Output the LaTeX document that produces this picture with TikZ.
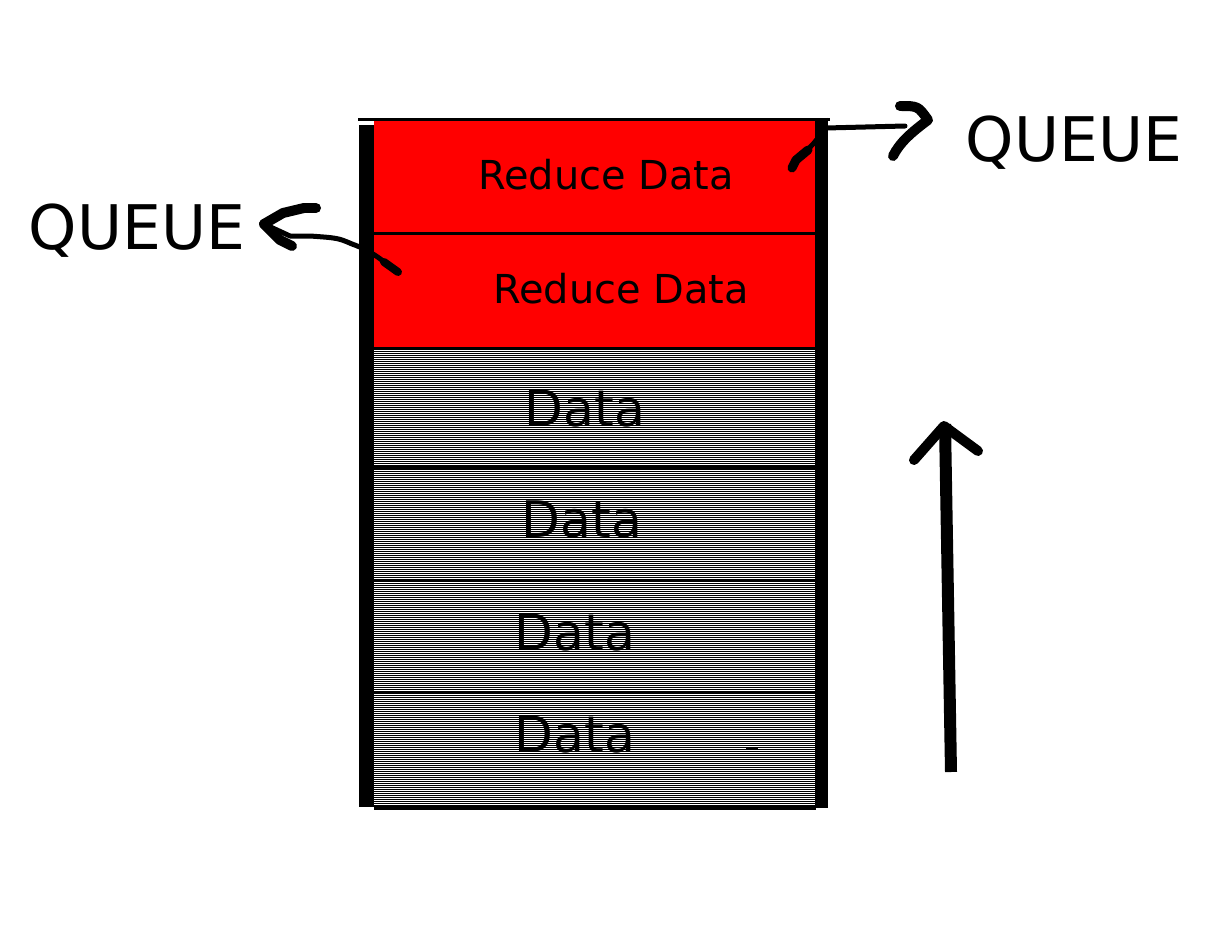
\documentclass[tikz,border=0pt]{standalone}
\usepackage{fontspec}
\setmainfont{DejaVu Sans}
\usetikzlibrary{positioning}

\begin{document}
\begin{tikzpicture}[x=0.02cm,y=-0.02cm,
redcell/.style={rectangle, fill=red, minimum width=8.82cm, inner sep=0pt, anchor=north west},
datacell/.style={rectangle, minimum width=8.82cm, inner sep=0pt, anchor=north west},
stripe/.style={line width=0.02cm},
divider/.style={line width=0.06cm},
bar/.style={line width=0.3cm},
smalltext/.style={anchor=base, font=\fontsize{22.7}{27}\selectfont},
bigtext/.style={anchor=base, font=\fontsize{28.7}{34}\selectfont},
queuetext/.style={anchor=base, font=\fontsize{35}{42}\selectfont},
arrowline/.style={line width=0.1cm, line cap=round, line join=round},
barb/.style={line width=0.2cm, line cap=round, line join=round},
]
\useasboundingbox (0,0) rectangle (1221,936);

%Cells
\node[redcell, minimum height=2.24cm]                    (reduce1) at (374,121) {};
\node[redcell, minimum height=2.28cm, below=0pt of reduce1] (reduce2) {};
\node[datacell, minimum height=2.36cm, below=0pt of reduce2] (data1) {};
\node[datacell, minimum height=2.26cm, below=0pt of data1]   (data2) {};
\node[datacell, minimum height=2.22cm, below=0pt of data2]   (data3) {};
\node[datacell, minimum height=2.30cm, below=0pt of data3]   (data4) {};

%Stripes
\foreach \y in {349.5,351.5,...,805.5}
  \draw[stripe] (374,\y) -- (815,\y);

%Dividers
\draw[divider] (reduce1.south west) -- (reduce1.south east);
\draw[divider] (reduce2.south west) -- (reduce2.south east);
\draw[divider] ([xshift=-0.3cm]data1.south west) -- (data1.south east);
\draw[divider] ([xshift=-0.3cm]data2.south west) -- (data2.south east);
\draw[divider] ([xshift=-0.3cm]data3.south west) -- (data3.south east);
\draw[line width=0.08cm] (data4.south west) -- (data4.south east);

%Frame
\draw[divider] (358,120) -- (830,120);
\draw[bar] (366,125) -- (366,807);
\draw[line width=0.26cm] (821.5,118) -- (821.5,808);
\draw[line width=0.03cm] (746,748) -- (758,748);

%Texts
\node[smalltext] (reducetext1) at (606,190) {Reduce Data};
\node[smalltext] (reducetext2) at (621,303) {Reduce Data};
\node[bigtext]   (datatext1)   at (585,426) {Data};
\node[bigtext]   (datatext2)   at (582,537) {Data};
\node[bigtext]   (datatext3)   at (575,650) {Data};
\node[bigtext]   (datatext4)   at (575,752) {Data};
\node[queuetext] (queueright)  at (1074,162) {QUEUE};
\node[queuetext] (queueleft)   at (137,249) {QUEUE};

%Arrows
\coordinate (lefttail) at (396,272);
\coordinate (lefttip)  at (264,224);
\draw[arrowline] (lefttail) .. controls (385,262) and (372,251) .. (352,244)
  .. controls (338,238) .. (310,236) -- (290,236) -- (lefttip);
\draw[line width=0.16cm, line cap=round] (398,272) -- (384,262);
\draw[barb] (lefttip) -- (283,213) -- (304,208) -- (316,208);
\draw[barb] (lefttip) -- (280,240) -- (292,246);

\coordinate (righttail) at (792,168);
\coordinate (righttip)  at (928,120);
\draw[arrowline] (righttail) -- (800,158) -- (814,143) -- (826,128) -- (905,126);
\draw[line width=0.18cm, line cap=round, line join=round] (righttail) -- (796,160) -- (808,150);
\draw[barb] (900,106) .. controls (918,106) .. (righttip)
  .. controls (912,132) and (900,142) .. (893,156);

\coordinate (upfoot) at (951,772);
\coordinate (uptip)  at (945,424);
\draw[line width=0.24cm] (upfoot) -- (uptip);
\draw[barb] (914,460) -- (944,426) -- (978,451);
\end{tikzpicture}
\end{document}
